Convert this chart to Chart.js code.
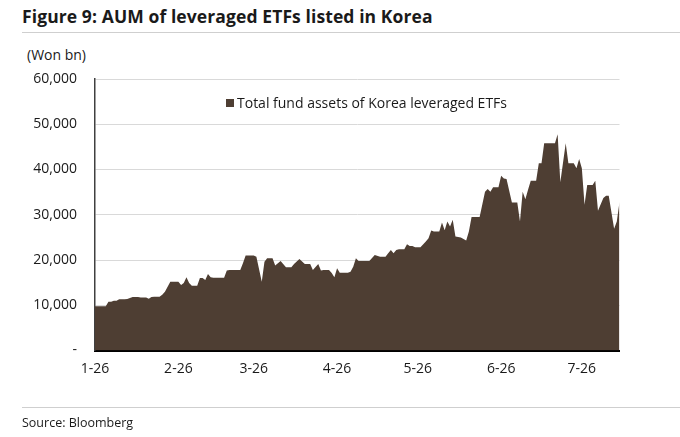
<!DOCTYPE html>
<html>
<head>
<meta charset="utf-8">
<script src="https://cdn.jsdelivr.net/npm/chart.js@4.4.1/dist/chart.umd.min.js"></script>
<style>
  body { margin: 0; width: 680px; height: 437px; background: #fff; font-family: "Open Sans", sans-serif; color: #1a1a1a; overflow: hidden; }
  #title { position: absolute; left: 22px; top: 6px; font-size: 17.5px; letter-spacing: 0.1px; font-weight: bold; line-height: 20px; white-space: nowrap; }
  .rule { position: absolute; left: 22px; right: 0; height: 1px; background: #cfcfcf; }
  #unit { position: absolute; left: 27px; top: 45px; font-size: 14px; line-height: 20px; }
  #source { position: absolute; left: 22px; top: 413px; font-size: 12.5px; line-height: 20px; }
  #wrap { position: absolute; left: 0; top: 0; width: 680px; height: 437px; }
</style>
</head>
<body>
<div id="title">Figure 9: AUM of leveraged ETFs listed in Korea</div>
<div class="rule" style="top:32px"></div>
<div id="unit">(Won bn)</div>
<div id="wrap"><canvas id="aumChart"></canvas></div>
<div class="rule" style="top:407px"></div>
<div id="source">Source: Bloomberg</div>
<script>
// 数据：从1月1日起的天数，和对应的资产规模（十亿韩元）
var days = [0, 4, 5, 6, 7, 8, 9, 11, 12, 14, 16, 17, 19, 20, 21, 22, 24, 25, 26, 27,
            28, 31, 32, 33, 34, 35, 36, 38, 39, 40, 41, 42, 43, 44, 48, 49, 50, 54, 55, 56,
            59, 60, 62, 63, 64, 66, 67, 69, 71, 73, 74, 76, 78, 80, 81, 83, 84, 85, 87, 88,
            89, 90, 91, 94, 95, 96, 97, 98, 102, 104, 106, 108, 109, 110, 111, 112, 113, 115, 116, 117,
            118, 119, 121, 123, 124, 125, 126, 128, 129, 130, 131, 132, 133, 134, 136, 138, 139, 140, 143, 145,
            146, 147, 148, 150, 151, 152, 153, 155, 157, 158, 159, 160, 161, 162, 164, 165, 166, 167, 171, 172,
            173, 175, 176, 178, 179, 180, 181, 182, 183, 185, 186, 187, 189, 190, 191, 193, 194, 195];
var aum = [9800, 9800, 10800, 10800, 11000, 11000, 11300, 11300, 11400, 11800, 11800, 11700, 11700, 11450, 11800, 11900, 11900, 12300, 13000, 14100,
           15200, 15200, 14500, 14900, 16200, 14900, 14300, 14300, 16000, 16000, 15600, 16900, 16200, 16100, 16100, 17700, 17800, 17800, 19300, 21000,
           21000, 20700, 15200, 19600, 20400, 20400, 18800, 19800, 18400, 18400, 19100, 20200, 19100, 19100, 17800, 19100, 17700, 17800, 17800, 17100,
           16200, 18200, 17200, 17200, 17400, 18500, 20400, 19800, 19800, 21100, 20700, 20700, 21500, 22200, 21500, 22200, 22400, 22400, 23500, 23100,
           23100, 22800, 22800, 24100, 24800, 26500, 26300, 26300, 28300, 26600, 28500, 27400, 28900, 25200, 25000, 24300, 26300, 29500, 29500, 35100,
           35700, 35100, 36100, 36100, 38600, 38000, 37900, 32700, 32700, 28500, 35100, 33400, 35500, 37500, 37500, 41400, 41400, 45800, 45800, 47800,
           37200, 45800, 41400, 41400, 40300, 42300, 40300, 32200, 36600, 36600, 37500, 30900, 33700, 34200, 34200, 26900, 28500, 32800];

// x轴刻度：每月第一天
var monthDays = [0, 31, 59, 90, 120, 151, 181];
var monthLabels = ['1-26', '2-26', '3-26', '4-26', '5-26', '6-26', '7-26'];
var yTicks = [0, 10000, 20000, 30000, 40000, 50000, 60000];

var areaColor = '#4e3e33';

// 图例画在绘图区内部
var legendInside = {
    id: 'legendInside',
    afterDatasetsDraw: function(chart) {
        var ctx = chart.ctx, a = chart.chartArea, ds = chart.data.datasets[0];
        ctx.save();
        ctx.fillStyle = ds.backgroundColor;
        ctx.fillRect(a.left + 131, a.top + 20, 8, 8);
        ctx.fillStyle = '#1a1a1a';
        ctx.font = '14px "Open Sans"';
        ctx.textBaseline = 'middle';
        ctx.fillText(ds.label, a.left + 142, a.top + 25);
        ctx.restore();
    }
};

var ctx = document.getElementById('aumChart');
var aumChart = new Chart(ctx, {
    type: 'line',
    data: {
        datasets: [{
            label: 'Total fund assets of Korea leveraged ETFs',
            data: days.map(function(d, i) { return { x: d, y: aum[i] }; }),
            backgroundColor: areaColor,
            borderColor: areaColor,
            borderWidth: 0,
            fill: 'origin',
            pointRadius: 0,
            tension: 0
        }]
    },
    options: {
        responsive: true,
        maintainAspectRatio: false,
        animation: false,
        layout: { padding: { top: 79, left: 0, right: 60.5, bottom: 58.5 } },
        plugins: { legend: { display: false }, tooltip: { enabled: false } },
        scales: {
            x: {
                type: 'linear',
                min: 0,
                max: 195,
                afterBuildTicks: function(scale) {
                    scale.ticks = monthDays.map(function(v) { return { value: v }; });
                },
                afterFit: function(scale) { scale.height = 28; },
                grid: { display: false, drawTicks: false },
                border: { display: true, color: '#000', width: 2 },
                ticks: {
                    autoSkip: false,
                    maxRotation: 0,
                    padding: 10,
                    color: '#1a1a1a',
                    font: { family: 'Open Sans', size: 14 },
                    callback: function(v) { return monthLabels[monthDays.indexOf(v)]; }
                }
            },
            y: {
                min: 0,
                max: 60000,
                afterBuildTicks: function(scale) {
                    scale.ticks = yTicks.map(function(v) { return { value: v }; });
                },
                afterFit: function(scale) { scale.width = 95; },
                grid: { color: '#d9d9d9', lineWidth: 1, drawTicks: false },
                border: { display: true, color: '#404040', width: 1.5 },
                ticks: {
                    padding: 18,
                    color: '#1a1a1a',
                    font: { family: 'Open Sans', size: 14 },
                    callback: function(v) { return v === 0 ? '-' : v.toLocaleString('en-US'); }
                }
            }
        }
    },
    plugins: [legendInside]
});
</script>
</body>
</html>
